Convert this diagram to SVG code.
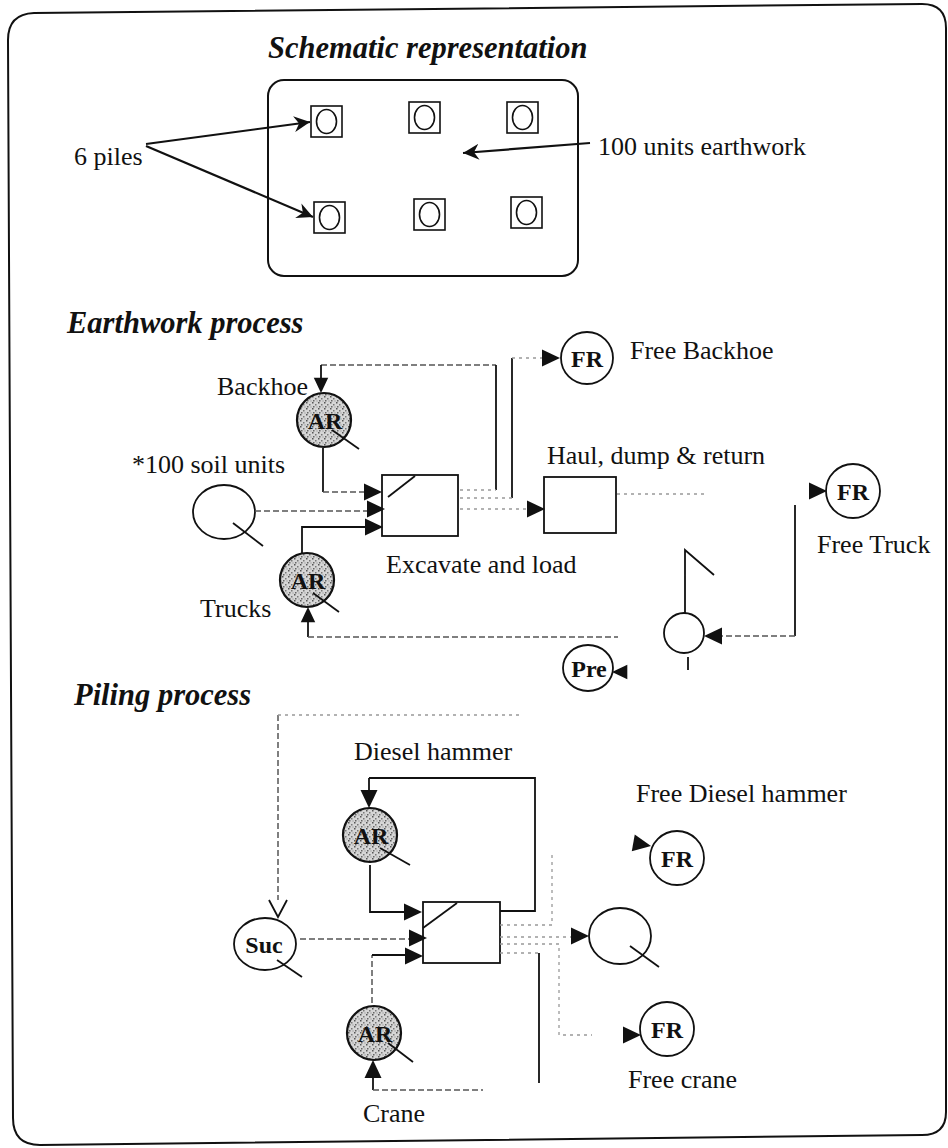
<svg xmlns="http://www.w3.org/2000/svg" width="948" height="1148" viewBox="0 0 948 1148">
<defs>
<style>
.lbl{font-family:"Liberation Serif","Times New Roman",serif;font-size:26px;fill:#111}
.hd{font-family:"Liberation Serif","Times New Roman",serif;font-size:30.5px;font-weight:bold;font-style:italic;fill:#111}
.in{font-family:"Liberation Serif","Times New Roman",serif;font-size:24px;font-weight:bold;fill:#111;text-anchor:middle}
.s{stroke:#111;stroke-width:1.8;fill:none}
.d{stroke:#555;stroke-width:1.5;fill:none;stroke-dasharray:6 3}
.f{stroke:#999;stroke-width:1.3;fill:none;stroke-dasharray:3 4}
.node{stroke:#111;stroke-width:1.8;fill:#fff}
.ar{stroke:#111;stroke-width:2.2;fill:url(#stip)}
.pile{stroke:#111;stroke-width:1.6;fill:#fff}
.tri{fill:#111}
.arrow{stroke:#111;stroke-width:2.2;fill:none}
</style>
<pattern id="stip" width="6" height="6" patternUnits="userSpaceOnUse">
<rect width="6" height="6" fill="#d6d6d6"/>
<rect x="0" y="0" width="1.5" height="1.5" fill="#555"/>
<rect x="3" y="2" width="1.5" height="1.5" fill="#777"/>
<rect x="1" y="4" width="1.5" height="1.5" fill="#666"/>
<rect x="4.5" y="4.5" width="1" height="1" fill="#888"/>
</pattern>
<path id="tri" d="M0,0 L-18,-8.5 L-18,8.5 Z"/>
<marker id="chev" markerUnits="userSpaceOnUse" markerWidth="18" markerHeight="16" refX="16" refY="8" orient="auto" viewBox="0 0 18 16">
<path d="M0,0 L16,8 L0,16 L5,8 Z" fill="#111"/>
</marker>
</defs>
<rect width="948" height="1148" fill="#fff"/>

<!-- outer frame -->
<path id="frame" d="M8,40 Q8,14 34,13 L922,4 Q946,4 946,28 L946,1112 Q946,1135 922,1135 L40,1145 Q13,1145 13,1118 Z" fill="none" stroke="#111" stroke-width="2"/>

<!-- headings -->
<text class="hd" x="268" y="58">Schematic representation</text>
<text class="hd" x="67" y="333">Earthwork process</text>
<text class="hd" x="74" y="705">Piling process</text>

<!-- schematic -->
<g id="site">
<rect x="268" y="80" width="310" height="196" rx="16" fill="none" stroke="#111" stroke-width="2"/>
</g>
<g id="pile1"><rect class="pile" x="311" y="106" width="31" height="31"/><ellipse cx="326.5" cy="121.5" rx="10" ry="12" fill="none" stroke="#111" stroke-width="1.6"/></g>
<g id="pile2"><rect class="pile" x="409" y="102" width="31" height="31"/><ellipse cx="424.5" cy="117.5" rx="10" ry="12" fill="none" stroke="#111" stroke-width="1.6"/></g>
<g id="pile3"><rect class="pile" x="507" y="102" width="31" height="31"/><ellipse cx="522.5" cy="117.5" rx="10" ry="12" fill="none" stroke="#111" stroke-width="1.6"/></g>
<g id="pile4"><rect class="pile" x="314" y="202" width="31" height="31"/><ellipse cx="329.5" cy="217.5" rx="10" ry="12" fill="none" stroke="#111" stroke-width="1.6"/></g>
<g id="pile5"><rect class="pile" x="414" y="199" width="31" height="31"/><ellipse cx="429.5" cy="214.5" rx="10" ry="12" fill="none" stroke="#111" stroke-width="1.6"/></g>
<g id="pile6"><rect class="pile" x="511" y="197" width="31" height="31"/><ellipse cx="526.5" cy="212.5" rx="10" ry="12" fill="none" stroke="#111" stroke-width="1.6"/></g>
<g id="lbl-piles"><text class="lbl" x="74" y="165">6 piles</text></g>
<g id="lbl-earth"><text class="lbl" x="598" y="155">100 units earthwork</text></g>

<!-- Earthwork nodes -->
<g id="ew-backhoe">
<circle class="ar" cx="324" cy="420" r="27"/>
<text class="in" x="325" y="429" font-size="25">AR</text>
<line class="s" x1="332" y1="430" x2="359" y2="449"/>
<text class="lbl" x="217" y="395">Backhoe</text>
</g>
<g id="ew-soil">
<ellipse class="node" cx="224" cy="512" rx="31" ry="27"/>
<line class="s" x1="233" y1="523" x2="263" y2="546"/>
<text class="lbl" x="132" y="473">*100 soil units</text>
</g>
<g id="ew-trucks">
<circle class="ar" cx="307" cy="580" r="27"/>
<text class="in" x="308" y="589" font-size="25">AR</text>
<line class="s" x1="313" y1="593" x2="339" y2="612"/>
<text class="lbl" x="200" y="617">Trucks</text>
</g>
<g id="ew-excavate">
<rect class="node" x="382" y="475" width="76" height="61"/>
<line class="s" x1="388" y1="497" x2="415" y2="476"/>
<text class="lbl" x="386" y="573">Excavate and load</text>
</g>
<g id="ew-haul">
<rect class="node" x="544" y="477" width="72" height="56"/>
<text class="lbl" x="547" y="464">Haul, dump &amp; return</text>
</g>
<g id="ew-fr-backhoe">
<circle class="node" cx="587" cy="358" r="26"/>
<text class="in" x="587" y="367">FR</text>
<text class="lbl" x="630" y="359">Free Backhoe</text>
</g>
<g id="ew-fr-truck">
<circle class="node" cx="853" cy="491" r="27"/>
<text class="in" x="853" y="500">FR</text>
<text class="lbl" x="817" y="553">Free Truck</text>
</g>
<g id="ew-queue">
<circle class="node" cx="684" cy="633" r="20"/>
<path class="s" d="M685,613 V550 L714,575"/>
<line class="s" x1="688" y1="657" x2="688" y2="670" stroke-width="1.4"/>
</g>
<g id="ew-pre">
<ellipse class="node" cx="588" cy="668" rx="25" ry="23"/>
<text class="in" x="589" y="677" font-size="23">Pre</text>
</g>

<!-- Piling nodes -->
<g id="pl-diesel">
<circle class="ar" cx="370" cy="835" r="27"/>
<text class="in" x="371" y="844" font-size="25">AR</text>
<line class="s" x1="380" y1="848" x2="410" y2="865"/>
<text class="lbl" x="354" y="760">Diesel hammer</text>
</g>
<g id="pl-suc">
<ellipse class="node" cx="265" cy="944" rx="31" ry="26"/>
<text class="in" x="264" y="953">Suc</text>
<line class="s" x1="277" y1="960" x2="302" y2="977"/>
</g>
<g id="pl-crane">
<circle class="ar" cx="374" cy="1033" r="27"/>
<text class="in" x="375" y="1042" font-size="25">AR</text>
<line class="s" x1="388" y1="1043" x2="413" y2="1062"/>
<text class="lbl" x="363" y="1122">Crane</text>
</g>
<g id="pl-drive">
<rect class="node" x="423" y="902" width="77" height="61"/>
<line class="s" x1="423" y1="928" x2="457" y2="903"/>
</g>
<g id="pl-fr-diesel">
<circle class="node" cx="677" cy="858" r="27"/>
<text class="in" x="677" y="867">FR</text>
<text class="lbl" x="636" y="802">Free Diesel hammer</text>
</g>
<g id="pl-queue">
<ellipse class="node" cx="620" cy="936" rx="31" ry="28"/>
<line class="s" x1="630" y1="946" x2="659" y2="967"/>
</g>
<g id="pl-fr-crane">
<circle class="node" cx="667" cy="1029" r="27"/>
<text class="in" x="667" y="1038">FR</text>
<text class="lbl" x="628" y="1088">Free crane</text>
</g>

<!-- connectors -->
<g id="connectors">
<line class="arrow" x1="146" y1="144" x2="310" y2="122" marker-end="url(#chev)"/>
<line class="arrow" x1="146" y1="146" x2="313" y2="217" marker-end="url(#chev)"/>
<line class="arrow" x1="590" y1="143" x2="463" y2="153" stroke-width="1.8" marker-end="url(#chev)"/>

<path class="d" d="M321,365 H496"/>
<path class="s" d="M321,365 V380"/>
<path class="s" d="M496,365 V490"/>
<path class="f" d="M460,490 H496"/>
<path class="s" d="M512,358 V498"/>
<path class="f" d="M512,358 H544"/>
<path class="f" d="M460,498 H512"/>
<path class="f" d="M460,509 H530"/>
<path class="s" d="M323,448 V492"/>
<path class="d" d="M323,492 H366"/>
<path class="d" d="M255,511 H368"/>
<path class="s" d="M302,553 V527 H366"/>
<path class="s" d="M308,618 V637"/>
<path class="d" d="M308,637 H618"/>
<path class="f" d="M617,494 H708"/>
<path class="s" d="M795,505 V636" stroke-width="1.3"/>
<path class="d" d="M795,636 H721"/>

<use href="#tri" class="tri" transform="translate(321,393) rotate(90) scale(0.85)"/>
<use href="#tri" class="tri" transform="translate(382,492)"/>
<use href="#tri" class="tri" transform="translate(385,509)"/>
<use href="#tri" class="tri" transform="translate(383,527)"/>
<use href="#tri" class="tri" transform="translate(308,607) rotate(-90) scale(0.85)"/>
<use href="#tri" class="tri" transform="translate(545,509)"/>
<use href="#tri" class="tri" transform="translate(560,358)"/>
<use href="#tri" class="tri" transform="translate(827,491)"/>
<use href="#tri" class="tri" transform="translate(704,636) rotate(180)"/>
<use href="#tri" class="tri" transform="translate(612,672) rotate(180) scale(0.85)"/>

<path class="d" d="M278,715 V900" stroke-dasharray="7 8" stroke="#333"/>
<path class="f" d="M278,715 H520"/>
<path class="s" d="M269,900 L278,917 L287,900" stroke-width="2.6"/>
<path class="s" d="M369,778 H535 V911 H500"/>
<path class="s" d="M369,778 V792"/>
<path class="s" d="M370,865 V912 H406"/>
<path class="d" d="M300,939 H410"/>
<path class="d" d="M372,1003 V955"/>
<path class="s" d="M372,955 H407"/>
<path class="s" d="M373,1076 V1090"/>
<path class="d" d="M373,1090 H483"/>
<path class="f" d="M500,925 H552 V855"/>
<path class="f" d="M500,937 H572"/>
<path class="f" d="M500,944 H559 V1035 H592"/>
<path class="f" d="M500,953 H539"/>
<path class="s" d="M539,953 V1083"/>

<use href="#tri" class="tri" transform="translate(369,808) rotate(90)"/>
<use href="#tri" class="tri" transform="translate(422,912)"/>
<use href="#tri" class="tri" transform="translate(427,938)"/>
<use href="#tri" class="tri" transform="translate(423,956)"/>
<use href="#tri" class="tri" transform="translate(373,1060) rotate(-90)"/>
<use href="#tri" class="tri" transform="translate(651,846) rotate(10)"/>
<use href="#tri" class="tri" transform="translate(589,936)"/>
<use href="#tri" class="tri" transform="translate(641,1035)"/>
</g>
</svg>
